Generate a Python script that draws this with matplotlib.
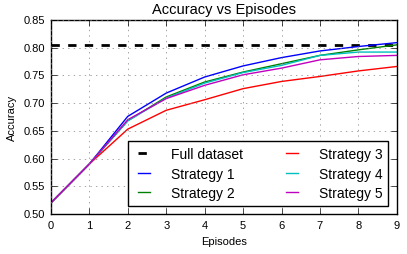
import matplotlib
matplotlib.use('Agg')
import matplotlib.pyplot as plt
import numpy as np

episodes = [0, 1, 2, 3, 4, 5, 6, 7, 8, 9]
full_dataset = 0.805
strategy_1 = [0.52, 0.59, 0.676, 0.718, 0.747, 0.767, 0.782, 0.794, 0.802, 0.809]
strategy_2 = [0.52, 0.59, 0.668, 0.711, 0.738, 0.756, 0.771, 0.786, 0.796, 0.805]
strategy_3 = [0.52, 0.59, 0.653, 0.687, 0.706, 0.726, 0.739, 0.748, 0.758, 0.766]
strategy_4 = [0.52, 0.59, 0.668, 0.709, 0.736, 0.755, 0.768, 0.786, 0.792, 0.792]
strategy_5 = [0.52, 0.59, 0.670, 0.708, 0.732, 0.751, 0.763, 0.778, 0.784, 0.786]

plt.style.use('classic')
plt.rcParams['font.family'] = ['Liberation Sans', 'DejaVu Sans']

fig = plt.figure(figsize=(4.07, 2.55), dpi=100, facecolor='white')
ax = fig.add_axes([0.125, 0.157, 0.85, 0.761])

ax.plot(episodes, [full_dataset] * len(episodes), 'k--', lw=2, label='Full dataset')
ax.plot(episodes, strategy_1, color='b', lw=1, label='Strategy 1')
ax.plot(episodes, strategy_2, color='g', lw=1, label='Strategy 2')
ax.plot(episodes, strategy_3, color='r', lw=1, label='Strategy 3')
ax.plot(episodes, strategy_4, color='c', lw=1, label='Strategy 4')
ax.plot(episodes, strategy_5, color='m', lw=1, label='Strategy 5')

ax.set_xlim(0, 9)
ax.set_ylim(0.50, 0.85)
ax.set_xticks(np.arange(0, 10, 1))
ax.set_yticks(np.arange(0.50, 0.851, 0.05))
ax.set_yticklabels([f'{v:.2f}' for v in np.arange(0.50, 0.851, 0.05)])
ax.tick_params(labelsize=8)
ax.grid(True, linestyle=':', color='gray')

ax.set_title('Accuracy vs Episodes', fontsize=10.5)
ax.set_xlabel('Episodes', fontsize=8)
ax.set_ylabel('Accuracy', fontsize=8)
ax.legend(loc='lower right', ncol=2, fontsize=10, handlelength=1.5,
          handletextpad=1.2, borderaxespad=0.6, columnspacing=2.8,
          labelspacing=0.4)

fig.savefig('out.png', dpi=100, facecolor='white')
